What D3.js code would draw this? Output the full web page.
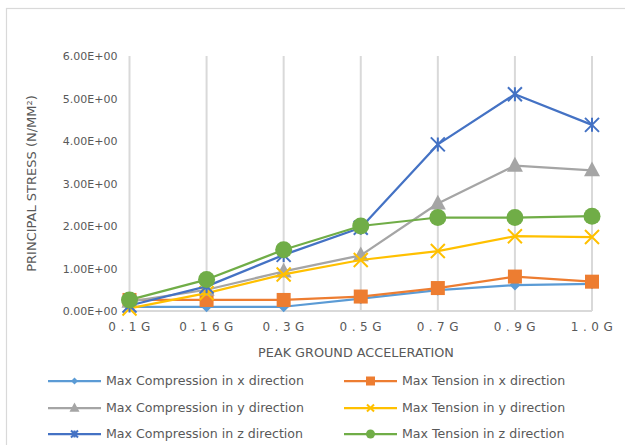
<!DOCTYPE html>
<html>
<head>
<meta charset="utf-8">
<script src="https://cdn.jsdelivr.net/npm/d3@7"></script>
<style>
  html, body { margin: 0; padding: 0; background: #fff; }
  svg { display: block; }
  text { font-family: "DejaVu Sans", sans-serif; fill: #595959; }
</style>
</head>
<body>
<svg id="chart" width="625" height="445"></svg>
<script>
// Peak ground acceleration levels (x categories)
const categories = ["0.1G", "0.16G", "0.3G", "0.5G", "0.7G", "0.9G", "1.0G"];

// Principal stress values (N/mm²) per series
const compressionX = [0.10, 0.10, 0.10, 0.29, 0.49, 0.61, 0.64];
const tensionX     = [0.26, 0.26, 0.26, 0.34, 0.54, 0.81, 0.69];
const compressionY = [0.22, 0.50, 0.93, 1.31, 2.53, 3.42, 3.31];
const tensionY     = [0.06, 0.42, 0.86, 1.20, 1.41, 1.76, 1.74];
const compressionZ = [0.13, 0.58, 1.32, 1.96, 3.92, 5.10, 4.38];
const tensionZ     = [0.26, 0.74, 1.44, 2.00, 2.20, 2.20, 2.23];

const yTicks = [0, 1, 2, 3, 4, 5, 6];

const series = [
  { name: "Max Compression in x direction", values: compressionX, color: "#5B9BD5", marker: "diamond" },
  { name: "Max Tension in x direction",     values: tensionX,     color: "#ED7D31", marker: "square" },
  { name: "Max Compression in y direction", values: compressionY, color: "#A5A5A5", marker: "triangle" },
  { name: "Max Tension in y direction",     values: tensionY,     color: "#FFC000", marker: "cross" },
  { name: "Max Compression in z direction", values: compressionZ, color: "#4472C4", marker: "star" },
  { name: "Max Tension in z direction",     values: tensionZ,     color: "#70AD47", marker: "circle" }
];

const svg = d3.select("#chart");
const grid = "#D9D9D9";

// chart area frame
svg.append("rect")
  .attr("x", 6.5).attr("y", 8.5)
  .attr("width", 700).attr("height", 600)
  .attr("fill", "none").attr("stroke", grid).attr("stroke-width", 1.2);

const plot = { left: 129.5, right: 592, top: 56, bottom: 311 };

const x = d3.scalePoint().domain(categories).range([plot.left, plot.right]);
const y = d3.scaleLinear().domain([0, 6]).range([plot.bottom, plot.top]);

// vertical gridlines at each category
svg.append("g")
  .selectAll("line")
  .data(categories)
  .join("line")
  .attr("x1", d => x(d)).attr("x2", d => x(d))
  .attr("y1", plot.top).attr("y2", plot.bottom)
  .attr("stroke", grid).attr("stroke-width", 2);

// x axis line
svg.append("line")
  .attr("x1", plot.left).attr("x2", plot.right)
  .attr("y1", plot.bottom).attr("y2", plot.bottom)
  .attr("stroke", grid).attr("stroke-width", 2);

// y tick labels
const fmt = v => v.toFixed(2) + "E+00";
const yAxis = d3.axisLeft(y).tickValues(yTicks).tickFormat(fmt).tickSize(0).tickPadding(0);
const gy = svg.append("g").attr("transform", `translate(${plot.left - 12},0)`).call(yAxis);
gy.select(".domain").remove();
gy.selectAll("text")
  .style("font-family", "DejaVu Sans, sans-serif")
  .style("font-size", "11px")
  .attr("fill", "#595959")
  .attr("dy", "0.35em");

// x tick labels (letter-spaced)
const xAxis = d3.axisBottom(x).tickSize(0).tickPadding(0);
const gx = svg.append("g").attr("transform", `translate(0,${plot.bottom + 20})`).call(xAxis);
gx.select(".domain").remove();
gx.selectAll("text")
  .style("font-family", "DejaVu Sans, sans-serif")
  .style("font-size", "12px")
  .style("letter-spacing", "4.5px")
  .attr("fill", "#595959")
  .attr("dx", "1.5px")
  .attr("dy", "0");

// axis titles
svg.append("text")
  .attr("x", 356).attr("y", 357)
  .attr("text-anchor", "middle")
  .style("font-size", "12.8px")
  .text("PEAK GROUND ACCELERATION");

svg.append("text")
  .attr("transform", `translate(36,${(plot.top + plot.bottom) / 2}) rotate(-90)`)
  .attr("text-anchor", "middle")
  .style("font-size", "13px")
  .text("PRINCIPAL STRESS (N/MM²)");

// marker drawing
function drawMarker(g, type, color, s) {
  switch (type) {
    case "diamond":
      g.append("path").attr("d", `M0,${-s}L${s},0L0,${s}L${-s},0Z`).attr("fill", color);
      break;
    case "square":
      g.append("rect").attr("x", -s).attr("y", -s).attr("width", 2 * s).attr("height", 2 * s)
        .attr("fill", color);
      break;
    case "triangle":
      g.append("path").attr("d", `M0,${-s * 1.1}L${s},${s * 0.75}L${-s},${s * 0.75}Z`).attr("fill", color);
      break;
    case "cross":
      g.append("path").attr("d", `M${-s},${-s}L${s},${s}M${-s},${s}L${s},${-s}`)
        .attr("stroke", color).attr("stroke-width", 2).attr("fill", "none");
      break;
    case "star":
      g.append("path").attr("d", `M${-s},${-s}L${s},${s}M${-s},${s}L${s},${-s}M0,${-s}L0,${s}`)
        .attr("stroke", color).attr("stroke-width", 2).attr("fill", "none");
      break;
    case "circle":
      g.append("circle").attr("r", s).attr("fill", color);
      break;
  }
}

const markerSize = { diamond: 5.5, square: 7, triangle: 8, cross: 7, star: 7, circle: 8.5 };

const line = d3.line().x((d, i) => x(categories[i])).y(d => y(d));

series.forEach(s => {
  const g = svg.append("g");
  g.append("path")
    .datum(s.values)
    .attr("d", line)
    .attr("fill", "none")
    .attr("stroke", s.color)
    .attr("stroke-width", 2.25)
    .attr("stroke-linejoin", "round");
  s.values.forEach((v, i) => {
    const m = g.append("g").attr("transform", `translate(${x(categories[i])},${y(v)})`);
    drawMarker(m, s.marker, s.color, markerSize[s.marker]);
  });
});

// legend
const legendCols = [48, 344];
const legendRows = [381, 408, 434];
const legendMarker = { diamond: 3.5, square: 4.5, triangle: 5, cross: 3.5, star: 3.5, circle: 4.5 };
series.forEach((s, i) => {
  const lx = legendCols[i % 2];
  const ly = legendRows[Math.floor(i / 2)];
  const g = svg.append("g").attr("transform", `translate(${lx},${ly})`);
  g.append("line").attr("x1", 0).attr("x2", 53).attr("y1", 0).attr("y2", 0)
    .attr("stroke", s.color).attr("stroke-width", 2.25);
  const m = g.append("g").attr("transform", "translate(26.5,0)");
  drawMarker(m, s.marker, s.color, legendMarker[s.marker]);
  g.append("text").attr("x", 58).attr("y", 0).attr("dy", "0.35em")
    .style("font-size", "12.6px")
    .text(s.name);
});
</script>
</body>
</html>
